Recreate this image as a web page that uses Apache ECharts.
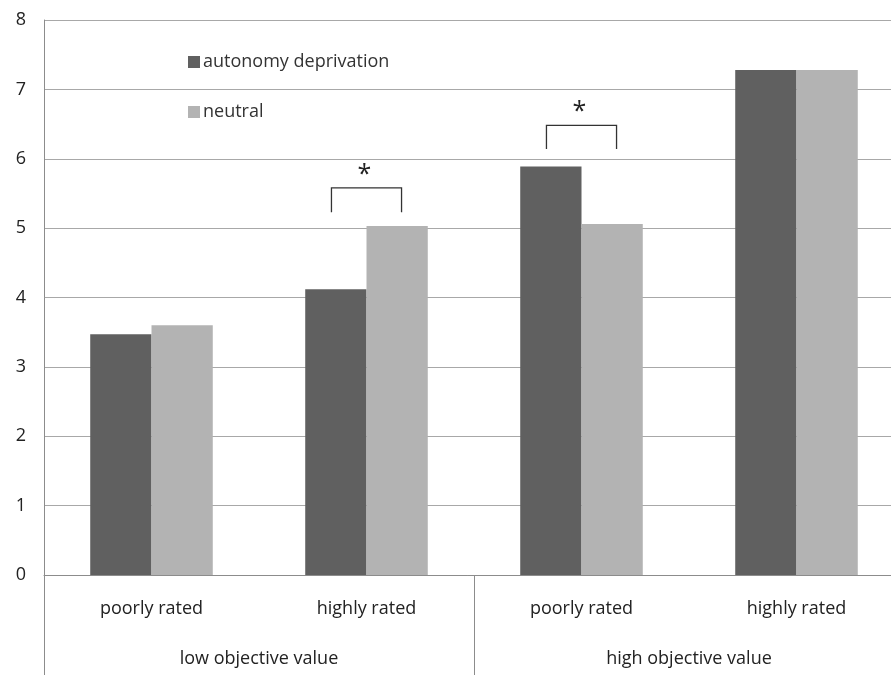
<!DOCTYPE html>
<html>
<head>
<meta charset="utf-8">
<script src="https://cdn.jsdelivr.net/npm/echarts@6/dist/echarts.min.js"></script>
<style>html,body{margin:0;padding:0;background:#fff;}#c{width:891px;height:675px;}</style>
</head>
<body>
<div id="c"></div>
<script>
var subCategories = ['poorly rated', 'highly rated', 'poorly rated', 'highly rated'];
var groupCategories = ['low objective value', 'high objective value'];
var autonomy = [3.47, 4.12, 5.89, 7.28];
var neutral = [3.60, 5.03, 5.06, 7.28];
var yTicks = {min: 0, max: 8, interval: 1};
// significance brackets: [category index, leg bottom value, bracket top value]
var brackets = [[1, 5.23, 5.58], [2, 6.14, 6.48]];

var FONT = '"Open Sans", "Liberation Sans", sans-serif';
var chart = echarts.init(document.getElementById('c'));
chart.setOption({
  animation: false,
  backgroundColor: '#fff',
  grid: {left: 44, right: -13, top: 20, bottom: 100, containLabel: false, outerBoundsMode: 'none'},
  legend: {
    data: ['autonomy deprivation', 'neutral'],
    orient: 'vertical', left: 183, top: 48,
    itemWidth: 12, itemHeight: 12, itemGap: 32,
    icon: 'rect',
    textStyle: {fontFamily: FONT, fontSize: 18, color: '#333', padding: [0, 0, 0, -2]}
  },
  xAxis: [{
    type: 'category', data: subCategories, position: 'bottom',
    axisLine: {show: true, lineStyle: {color: '#8c8c8c', width: 1}},
    axisTick: {show: false},
    axisLabel: {fontFamily: FONT, fontSize: 18, color: '#222', margin: 25}
  }, {
    type: 'category', data: groupCategories, position: 'bottom',
    axisLine: {show: false},
    axisTick: {show: true, length: 100, interval: 0, lineStyle: {color: '#8c8c8c'}},
    axisLabel: {fontFamily: FONT, fontSize: 18, color: '#222', margin: 75, interval: 0}
  }],
  yAxis: {
    type: 'value', min: yTicks.min, max: yTicks.max, interval: yTicks.interval,
    axisLine: {show: true, lineStyle: {color: '#8c8c8c'}},
    axisTick: {show: false},
    splitLine: {lineStyle: {color: '#a8a8a8', width: 1}},
    axisLabel: {fontFamily: FONT, fontSize: 18, color: '#222', margin: 18}
  },
  series: [{
    name: 'autonomy deprivation', type: 'bar', data: autonomy,
    barGap: '0%', barCategoryGap: '43%',
    itemStyle: {color: '#606060'}
  }, {
    name: 'neutral', type: 'bar', data: neutral,
    barGap: '0%', barCategoryGap: '43%',
    itemStyle: {color: '#b3b3b3'}
  }, {
    type: 'custom', data: brackets, z: 5,
    encode: {x: 0, y: 2},
    renderItem: function (params, api) {
      var c = api.value(0);
      var leg = api.coord([c, api.value(1)]);
      var top = api.coord([c, api.value(2)]);
      var band = api.size([1, 0])[0];
      var half = band * 0.163;
      var x0 = leg[0] - half, x1 = leg[0] + half;
      return {
        type: 'group',
        children: [{
          type: 'polyline',
          shape: {points: [[x0, leg[1]], [x0, top[1]], [x1, top[1]], [x1, leg[1]]]},
          style: {stroke: '#333', lineWidth: 1.3, fill: null}
        }, {
          type: 'text',
          style: {text: '*', x: leg[0] - 2, y: top[1] - 1, fontSize: 25, fontFamily: FONT,
                  fill: '#222', align: 'center', verticalAlign: 'bottom'}
        }]
      };
    }
  }]
});
</script>
</body>
</html>
